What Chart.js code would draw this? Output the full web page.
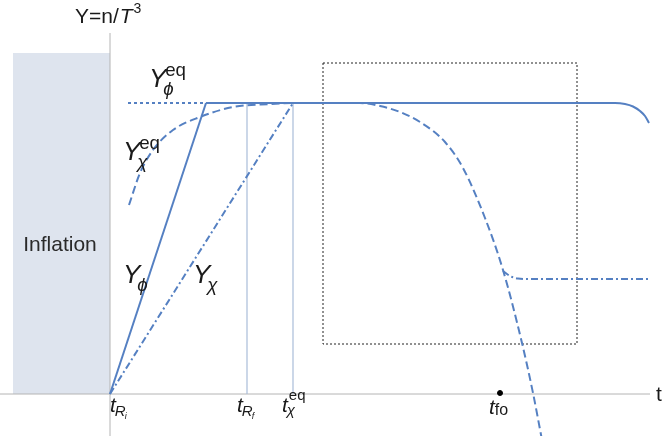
<!DOCTYPE html>
<html>
<head>
<meta charset="utf-8">
<script src="https://cdn.jsdelivr.net/npm/chart.js@4/dist/chart.umd.min.js"></script>
<style>
  html, body { margin: 0; padding: 0; background: #fff; }
  #wrap { width: 664px; height: 436px; }
</style>
</head>
<body>
<div id="wrap"><canvas id="chart" width="664" height="436"></canvas></div>
<script>
// schematic time axis (t) and yield (Y = n/T^3), arbitrary units
const yEq = 29.1;
const tRi = 0, tPhiEq = 9.6, tRf = 13.7, tChiEq = 18.3, tFo = 39.0;

// Y_phi: linear rise then equilibrium, falling at the end
const phiRiseT = [tRi, tPhiEq];
const phiRiseY = [0, yEq];
const phiEqT = [tPhiEq, 50.5, 51.5, 52.3, 53.0, 53.5, 53.9];
const phiEqY = [yEq, yEq, 29.0, 28.75, 28.3, 27.8, 27.1];

// Y_phi^eq dotted lead-in
const phiEqDotT = [1.8, tPhiEq];
const phiEqDotY = [yEq, yEq];

// Y_chi^eq dashed curve
const chiEqT = [1.9, 3.0, 4.3, 6.3, 9.0, 12.3, 16.0, 19.0, 25.0, 27.0, 29.0, 31.0, 33.5, 35.3, 37.5, 39.3, 41.2, 42.3, 43.2];
const chiEqY = [18.9, 22.1, 24.4, 26.4, 27.7, 28.7, 29.0, 29.1, 29.1, 28.8, 28.2, 27.2, 25.2, 22.6, 17.6, 12.4, 5.1, 0.1, -4.6];

// Y_chi dash-dot: rise, then freeze-out relic
const chiRiseT = [tRi, tChiEq];
const chiRiseY = [0, yEq];
const chiFoT = [39.3, 40.0, 40.8, 42.0, 53.8];
const chiFoY = [12.3, 11.8, 11.55, 11.5, 11.5];

// inflation band and zoom box
const inflT = [-9.7, 0];
const inflY = [34.1, 34.1];
const boxT = [21.3, 46.7, 46.7, 21.3, 21.3];
const boxY = [33.1, 33.1, 5.0, 5.0, 33.1];

const pts = (xs, ys) => xs.map((x, i) => ({ x: x, y: ys[i] }));

const blue = '#5580c2';
const labelPlugin = {
  id: 'labels',
  afterDatasetsDraw(chart) {
    const ctx = chart.ctx;
    const sx = chart.scales.x, sy = chart.scales.y;
    const X = v => sx.getPixelForValue(v);
    const Y = v => sy.getPixelForValue(v);
    const fam = '"Liberation Sans", Arial, sans-serif';
    ctx.save();
    ctx.fillStyle = '#1a1a1a';
    ctx.textBaseline = 'alphabetic';
    ctx.textAlign = 'left';

    function txt(s, x, y, size, italic) {
      ctx.font = (italic ? 'italic ' : '') + size + 'px ' + fam;
      ctx.fillText(s, x, y);
      return ctx.measureText(s).width;
    }
    // base symbol with optional sub / sup
    function sym(x, y, base, size, sub, sup, subItalic) {
      const w = txt(base, x, y, size, true);
      const xs = x + w * 0.82;
      if (sup) txt(sup, xs + 2, y - size * 0.42, size * 0.72, false);
      if (sub) txt(sub, xs, y + size * 0.3, size * 0.72, subItalic !== false);
    }

    // axis titles
    let w = txt('Y=n/', 75, 23, 21, false);
    w += txt('T', 75 + w + 1, 23, 21, true);
    txt('3', 75 + w + 2, 13, 14, false);
    txt('t', 656, 401, 21, false);

    ctx.fillStyle = '#2a2a2a';
    ctx.textAlign = 'center';
    txt('Inflation', X(-5.0), Y(14.3), 21, false);
    ctx.textAlign = 'left';
    ctx.fillStyle = '#1a1a1a';

    sym(X(3.9), Y(30.7), 'Y', 26, '\u03d5', 'eq');
    sym(X(1.3), Y(23.4), 'Y', 26, '\u03c7', 'eq');
    sym(X(1.3), Y(11.1), 'Y', 26, '\u03d5');
    sym(X(8.3), Y(11.1), 'Y', 26, '\u03c7');

    // time markers
    function tR(x, s) {
      const w1 = txt('t', x, Y(-1.8), 21, true);
      const w2 = txt('R', x + w1 - 1, Y(-2.2), 15, true);
      txt(s, x + w1 + w2 - 2, Y(-2.5), 9, true);
    }
    tR(X(tRi), 'i');
    tR(X(tRf) - 10, 'f');
    const w3 = txt('t', X(tChiEq) - 11, Y(-1.8), 21, true);
    txt('eq', X(tChiEq) - 11 + w3 + 1, Y(-0.6), 15, false);
    txt('\u03c7', X(tChiEq) - 11 + w3 - 1, Y(-2.1), 15, true);
    const w4 = txt('t', X(tFo) - 11, Y(-2.0), 21, true);
    txt('fo', X(tFo) - 11 + w4, Y(-2.1), 16, false);
    ctx.restore();
  }
};

const lineDs = (data, extra) => Object.assign({
  data: data, showLine: true, pointRadius: 0, borderColor: blue,
  borderWidth: 2, fill: false, tension: 0
}, extra);

new Chart(document.getElementById('chart'), {
  type: 'scatter',
  data: {
    datasets: [
      lineDs(pts(phiRiseT, phiRiseY), { order: 1 }),
      lineDs(pts(phiEqT, phiEqY), { order: 1, cubicInterpolationMode: 'monotone' }),
      lineDs(pts(phiEqDotT, phiEqDotY), { order: 2, borderDash: [3, 3] }),
      lineDs(pts(chiEqT, chiEqY), { order: 2, borderDash: [8, 4], cubicInterpolationMode: 'monotone' }),
      lineDs(pts(chiRiseT, chiRiseY), { order: 2, borderDash: [7, 3, 2, 3] }),
      lineDs(pts(chiFoT, chiFoY), { order: 2, borderDash: [7, 3, 2, 3], cubicInterpolationMode: 'monotone' }),
      // vertical time markers
      lineDs(pts([tRf, tRf], [0, yEq]), { order: 5, borderColor: '#a9bcd9', borderWidth: 1.2 }),
      lineDs(pts([tChiEq, tChiEq], [0, yEq]), { order: 5, borderColor: '#a9bcd9', borderWidth: 1.2 }),
      // zoom box
      lineDs(pts(boxT, boxY), { order: 6, borderColor: '#222', borderWidth: 1, borderDash: [2, 2] }),
      // axes
      lineDs(pts([-11, 54], [0, 0]), { order: 7, borderColor: '#b4b4b4', borderWidth: 1 }),
      lineDs(pts([0, 0], [-4.2, 36.1]), { order: 7, borderColor: '#b4b4b4', borderWidth: 1 }),
      // inflation band
      lineDs(pts(inflT, inflY), { order: 9, borderWidth: 0, borderColor: 'rgba(0,0,0,0)', backgroundColor: '#dee4ee', fill: 'origin' }),
      // freeze-out point
      { data: [{ x: tFo, y: 0.1 }], pointRadius: 2.5, backgroundColor: '#000', borderColor: '#000', order: 0 }
    ]
  },
  options: {
    responsive: false,
    animation: false,
    layout: { padding: 0, autoPadding: false },
    plugins: { legend: { display: false }, tooltip: { enabled: false } },
    scales: {
      x: { type: 'linear', min: -11, max: 55.4, display: false },
      y: { type: 'linear', min: -4.2, max: 39.4, display: false }
    }
  },
  plugins: [labelPlugin]
});
</script>
</body>
</html>
